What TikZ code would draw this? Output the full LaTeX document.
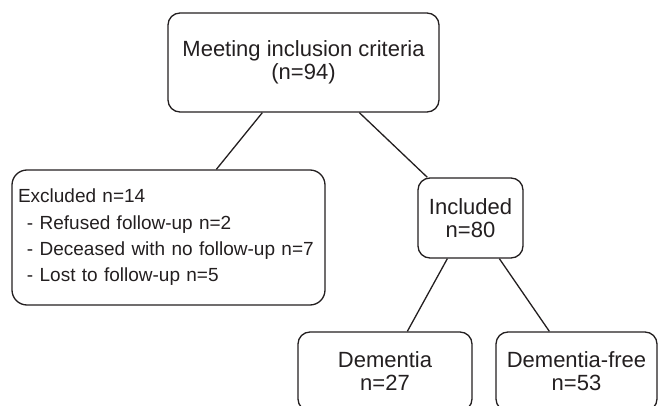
\documentclass[tikz,border=0pt]{standalone}
\usepackage{fontspec}
\setmainfont{Liberation Sans}
\definecolor{ink}{HTML}{231F20}
\begin{document}
\begin{tikzpicture}[x=1pt,y=-1pt,
  box/.style={draw=ink,line width=1.3pt,rounded corners=12pt,inner sep=0pt,text=ink,align=center,font=\fontsize{22}{23}\selectfont},
  link/.style={draw=ink,line width=1.3pt}]
\useasboundingbox (0,0) rectangle (659,406);
\clip (0,0) rectangle (659,406);
\node[box,minimum width=271pt,minimum height=99pt] (top) at (303.5,62.5) {Meeting inclusion criteria\\(n=94)};
\node[box,rounded corners=15pt,minimum width=313pt,minimum height=135pt,text width=301pt,align=left,inner xsep=6pt,font=\fontsize{19}{26.3}\selectfont] (excl) at (168.5,237.5)
  {Excluded n=14\\\hspace*{9pt}- Refused follow-up n=2\\\hspace*{9pt}- Deceased with no follow-up n=7\\\hspace*{9pt}- Lost to follow-up n=5};
\node[box,minimum width=105pt,minimum height=80pt] (incl) at (470.5,218) {Included\\n=80};
\node[box,minimum width=174pt,minimum height=79pt] (dem) at (385,371.5) {Dementia\\n=27};
\node[box,minimum width=161pt,minimum height=79pt] (dfree) at (576.5,371.5) {Dementia-free\\n=53};
\draw[link] ([xshift=95pt]top.south west) -- ([xshift=205pt]excl.north west);
\draw[link] ([xshift=192pt]top.south west) -- ([xshift=10pt]incl.north west);
\draw[link] ([xshift=30pt]incl.south west) -- ([xshift=110pt]dem.north west);
\draw[link] ([xshift=82pt]incl.south west) -- ([xshift=54pt]dfree.north west);
\end{tikzpicture}
\end{document}
